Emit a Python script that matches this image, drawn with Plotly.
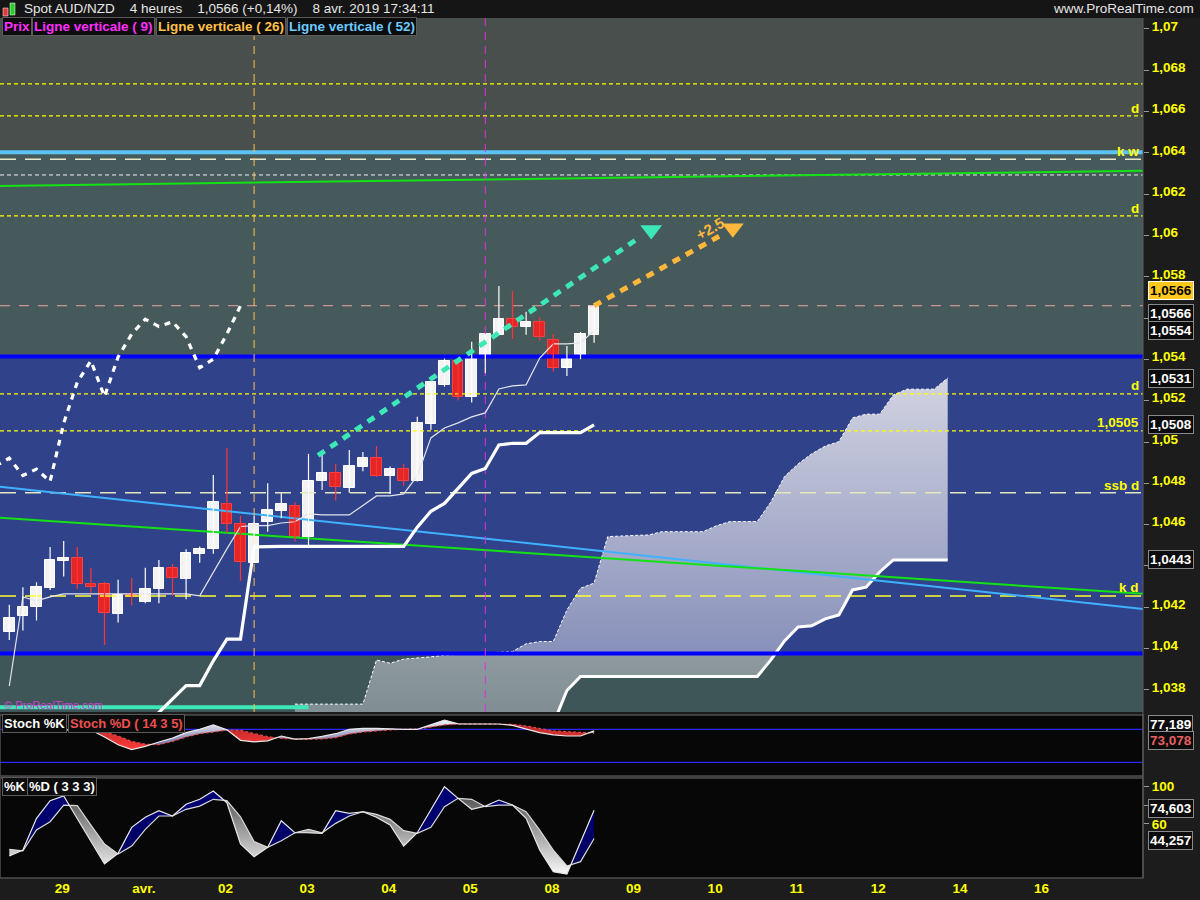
import plotly.graph_objects as go

# ------------------------------------------------------------------ data
OPEN = [1.04078, 1.04160, 1.04199, 1.04295, 1.04426, 1.04438, 1.04313, 1.04312, 1.04169, 1.04259,
        1.04228, 1.04288, 1.04389, 1.04339, 1.04460, 1.04481, 1.04699, 1.04602, 1.04416, 1.04612,
        1.04668, 1.04689, 1.04542, 1.04809, 1.04849, 1.04779, 1.04881, 1.04922, 1.04838, 1.04869,
        1.04809, 1.05088, 1.05277, 1.05391, 1.05220, 1.05417, 1.05519, 1.05595, 1.05559, 1.05582,
        1.05494, 1.05360, 1.05409, 1.05520]
HIGH = [1.04212, 1.04297, 1.04321, 1.04492, 1.04521, 1.04492, 1.04391, 1.04323, 1.04333, 1.04342,
        1.04391, 1.04429, 1.04410, 1.04481, 1.04494, 1.04841, 1.04972, 1.04642, 1.04642, 1.04801,
        1.04752, 1.04709, 1.04943, 1.04943, 1.04894, 1.04962, 1.04952, 1.04981, 1.04881, 1.04894,
        1.05123, 1.05290, 1.05404, 1.05401, 1.05485, 1.05523, 1.05756, 1.05730, 1.05631, 1.05604,
        1.05523, 1.05465, 1.05533, 1.05662]
LOW = [1.04042, 1.04087, 1.04136, 1.04284, 1.04349, 1.04288, 1.04268, 1.04018, 1.04126, 1.04210,
       1.04220, 1.04220, 1.04255, 1.04239, 1.04416, 1.04459, 1.04560, 1.04329, 1.04416, 1.04566,
       1.04631, 1.04518, 1.04497, 1.04768, 1.04717, 1.04755, 1.04859, 1.04830, 1.04749, 1.04788,
       1.04809, 1.05059, 1.05268, 1.05201, 1.05191, 1.05333, 1.05519, 1.05499, 1.05519, 1.05491,
       1.05341, 1.05320, 1.05401, 1.05481]
CLOSE = [1.04147, 1.04200, 1.04297, 1.04428, 1.04439, 1.04312, 1.04297, 1.04171, 1.04259, 1.04249,
         1.04288, 1.04389, 1.04341, 1.04462, 1.04481, 1.04710, 1.04602, 1.04418, 1.04602, 1.04671,
         1.04699, 1.04542, 1.04812, 1.04849, 1.04781, 1.04884, 1.04922, 1.04838, 1.04869, 1.04809,
         1.05091, 1.05290, 1.05393, 1.05220, 1.05412, 1.05523, 1.05595, 1.05559, 1.05582, 1.05510,
         1.05360, 1.05401, 1.05523, 1.05660]

TENKAN = [1.03819, 1.04250, 1.04231, 1.04250, 1.04265, 1.04265, 1.04265, 1.04265, 1.04265, 1.04265,
          1.04265, 1.04265, 1.04265, 1.04265, 1.04255, 1.04371, 1.04483, 1.04591, 1.04595, 1.04595,
          1.04608, 1.04614, 1.04652, 1.04647, 1.04647, 1.04647, 1.04693, 1.04739, 1.04739, 1.04749,
          1.04836, 1.05020, 1.05068, 1.05093, 1.05122, 1.05141, 1.05257, 1.05272, 1.05277, 1.05407,
          1.05475, 1.05475, 1.05480, 1.05540]

KIJUN_START = 10
KIJUN = [1.03626, 1.03691, 1.03757, 1.03821, 1.03821, 1.03941, 1.04046, 1.04046, 1.04492,
         1.04495, 1.04495, 1.04495, 1.04495, 1.04495, 1.04495, 1.04495, 1.04495, 1.04495, 1.04495, 1.04495,
         1.04588, 1.04665, 1.04703, 1.04778, 1.04848, 1.04872, 1.04986, 1.04994, 1.04994, 1.05046,
         1.05046, 1.05046, 1.05046, 1.05083]

CHIKOU_SHIFT = 26

CLOUD_START = 21
CLOUD_UP = [1.03731, 1.03731, 1.03731, 1.03731, 1.03731, 1.03731, 1.03945, 1.03929, 1.03949, 1.03953,
            1.03960, 1.03968, 1.03972, 1.03974, 1.03979, 1.03982, 1.03986, 1.04023, 1.04034, 1.04034,
            1.04187, 1.04292, 1.04317, 1.04542, 1.04546, 1.04548, 1.04550, 1.04566, 1.04566, 1.04566,
            1.04566, 1.04595, 1.04615, 1.04615, 1.04615, 1.04710, 1.04833, 1.04894, 1.04943, 1.04981,
            1.05002, 1.05117, 1.05135, 1.05135, 1.05228, 1.05256, 1.05256, 1.05256, 1.05310]
CLOUD_DN = [1.03550, 1.03550, 1.03550, 1.03550, 1.03550, 1.03550, 1.03550, 1.03550, 1.03550, 1.03550,
            1.03550, 1.03550, 1.03550, 1.03550, 1.03550, 1.03550, 1.03550, 1.03550, 1.03550, 1.03636,
            1.03797, 1.03865, 1.03865, 1.03865, 1.03865, 1.03865, 1.03865, 1.03865, 1.03865, 1.03865,
            1.03865, 1.03865, 1.03865, 1.03865, 1.03865, 1.03945, 1.04037, 1.04105, 1.04110, 1.04144,
            1.04163, 1.04284, 1.04297, 1.04371, 1.04429, 1.04429, 1.04429, 1.04429, 1.04429]

STOCH_K = [75.6, 76.5, 78.0, 79.0, 79.0, 79.0, 78.7, 66.0, 52.0, 43.0,
           49.0, 57.0, 64.0, 74.0, 80.0, 88.0, 79.0, 60.0, 57.0, 59.0,
           67.8, 62.0, 63.0, 67.0, 72.0, 80.0, 81.8, 81.8, 80.5, 80.0,
           80.0, 88.0, 96.9, 90.0, 89.6, 89.6, 89.6, 87.0, 80.0, 74.0,
           70.0, 67.8, 67.8, 77.189]
STOCH_D = [78.0, 78.0, 78.5, 79.0, 79.0, 79.0, 79.0, 75.0, 68.0, 58.0,
           53.0, 52.0, 58.0, 66.0, 72.0, 75.0, 78.5, 78.0, 72.0, 66.6,
           63.6, 62.0, 61.8, 62.5, 65.0, 71.5, 75.0, 77.5, 79.0, 80.0,
           80.5, 84.0, 88.0, 89.6, 89.6, 89.6, 89.6, 89.0, 86.0, 81.0,
           77.0, 75.6, 74.0, 73.078]
STOCH_LEVELS = [80, 20]

KD_K = [25.5, 31.9, 66.0, 85.0, 90.0, 66.0, 40.9, 16.9, 28.4, 56.3,
        67.1, 74.2, 68.5, 81.1, 86.5, 95.4, 82.8, 38.4, 24.7, 34.8,
        63.4, 50.5, 50.5, 49.8, 74.2, 71.4, 73.1, 67.1, 58.8, 36.2,
        50.5, 74.9, 100.0, 87.5, 75.7, 79.2, 85.7, 80.3, 66.0, 31.9,
        8.6, 6.1, 40.9, 74.603]
KD_D = [32.7, 31.0, 53.4, 62.4, 80.3, 79.6, 58.8, 38.4, 27.6, 36.2,
        54.2, 68.5, 68.5, 75.7, 79.2, 86.5, 85.0, 67.7, 40.9, 34.8,
        41.9, 50.5, 54.2, 50.5, 60.6, 68.5, 73.1, 70.3, 64.9, 52.7,
        49.8, 56.3, 78.5, 87.5, 86.5, 78.5, 80.3, 80.3, 73.1, 53.4,
        31.9, 14.7, 19.4, 44.257]

# horizontal levels (price)
LEVELS_D_SHORT = [1.06734, 1.06579, 1.06095, 1.05233, 1.05054]   # yellow short dashes
LEVEL_KW = 1.06369
LEVEL_WHITE = 1.06293
LEVEL_SSB = 1.04754
LEVEL_KD = 1.04255
PRICE_LAST = 1.0566
LEVEL_CYAN = 1.06403
BLUE_LEVELS = [1.05414, 1.03976]
MINT_LEVEL = 1.03716
MINT_END = 22

# trend lines: prices at the left and right edge of the chart
TREND_X = [-0.684, 83.36]
TREND_BLUE = [1.04783, 1.04192]
TREND_GREEN = [1.04633, 1.04265]
TREND_GREEN_TOP = [1.06240, 1.06313]

VLINE_26 = 18
VLINE_9 = 35

PROJ_MINT_X = [22.7, 46.4]
PROJ_MINT_Y = [1.04935, 1.05993]
PROJ_MINT_TIP = (47.2, 1.06027)
PROJ_ORANGE_X = [43, 52.6]
PROJ_ORANGE_Y = [1.0566, 1.06011]
PROJ_ORANGE_TIP = (53.2, 1.06035)
PROJ_ORANGE_LABEL = (51.5, 1.06036, "+2.5")

X_TICKS = [3.9, 9.9, 15.9, 21.9, 27.9, 33.9, 39.9, 45.9, 51.9, 57.9, 63.9, 69.9, 75.9]
X_LABELS = ["29", "avr.", "02", "03", "04", "05", "08", "09", "10", "11", "12", "14", "16"]
Y_TICKS = [1.038, 1.040, 1.042, 1.044, 1.046, 1.048, 1.050, 1.052, 1.054, 1.056,
           1.058, 1.060, 1.062, 1.064, 1.066, 1.068, 1.070]
# 1,044 and 1,056 are hidden behind the price boxes in the original
Y_LABELS = ["1,038", "1,04", "1,042", "", "1,046", "1,048", "1,05", "1,052", "1,054", "",
            "1,058", "1,06", "1,062", "1,064", "1,066", "1,068", "1,07"]
KD_TICKS = [100, 80, 60]
KD_LABELS = ["100", "80", "60"]

# ------------------------------------------------------------------ style
FONT = "Liberation Sans, Arial, sans-serif"
YEL = "#ffff00"
X_RANGE = [-0.684, 83.36]
Y_RANGE = [1.03693, 1.07053]
Y2_RANGE = [-4.9, 106]
Y3_RANGE = [1.8, 109.4]
PLOT_W, PLOT_TOP, PLOT_BOT = 1143.0, 18.0, 878.0


def px(x):
    return x / PLOT_W


def py(y):
    return (PLOT_BOT - y) / (PLOT_BOT - PLOT_TOP)


def fmt(v, n):
    return f"{v:.{n}f}".replace(".", ",")


N = len(CLOSE)
IDX = list(range(N))

fig = go.Figure()


def hline(v, color, width, dash, x0=X_RANGE[0], x1=X_RANGE[1], yaxis="y"):
    fig.add_trace(go.Scatter(x=[x0, x1], y=[v, v], mode="lines", yaxis=yaxis,
                             line=dict(color=color, width=width, dash=dash), hoverinfo="skip"))


# ---- cloud
cx = list(range(CLOUD_START, CLOUD_START + len(CLOUD_UP)))
fig.add_trace(go.Scatter(x=cx, y=CLOUD_DN, mode="lines", line=dict(color="rgba(0,0,0,0)", width=0),
                         hoverinfo="skip"))
fig.add_trace(go.Scatter(x=cx, y=CLOUD_UP, mode="lines", line=dict(color="rgba(0,0,0,0)", width=0),
                         fill="tonexty",
                         fillgradient=dict(type="vertical", start=1.0372, stop=1.0531,
                                           colorscale=[[0, "rgba(222,222,232,0.42)"],
                                                       [1, "rgba(222,222,232,0.93)"]]),
                         hoverinfo="skip"))
fig.add_trace(go.Scatter(x=cx, y=CLOUD_UP, mode="lines",
                         line=dict(color="#ffffff", width=1, dash="3px,2px"), hoverinfo="skip"))
fig.add_trace(go.Scatter(x=cx, y=CLOUD_DN, mode="lines",
                         line=dict(color="#ffffff", width=3), hoverinfo="skip"))

# ---- level lines
for v in LEVELS_D_SHORT:
    hline(v, YEL, 1.2, "4px,3px")
hline(LEVEL_WHITE, "#f0f0f0", 1, "4px,3px")
hline(LEVEL_KW, "#e8e8c8", 1.5, "16px,9px")
hline(LEVEL_SSB, "#e6e6c0", 1.5, "16px,9px")
hline(LEVEL_KD, "#ffff30", 1.5, "16px,9px")
hline(PRICE_LAST, "#e8a2a0", 1, "10px,9px")
hline(LEVEL_CYAN, "#5cc4f5", 4, "solid")
fig.add_trace(go.Scatter(x=TREND_X, y=TREND_BLUE, mode="lines", line=dict(color="#3fb2ff", width=2),
                         hoverinfo="skip"))
fig.add_trace(go.Scatter(x=TREND_X, y=TREND_GREEN, mode="lines", line=dict(color="#12e312", width=2),
                         hoverinfo="skip"))
fig.add_trace(go.Scatter(x=TREND_X, y=TREND_GREEN_TOP, mode="lines", line=dict(color="#12e312", width=2),
                         hoverinfo="skip"))
for v in BLUE_LEVELS:
    hline(v, "#0000ff", 4, "solid")
hline(MINT_LEVEL, "#3ee8b6", 4, "solid", x1=MINT_END)

# vertical lines
fig.add_trace(go.Scatter(x=[VLINE_26, VLINE_26], y=Y_RANGE, mode="lines",
                         line=dict(color="#ffc04a", width=1, dash="8px,6px"), hoverinfo="skip"))
fig.add_trace(go.Scatter(x=[VLINE_9, VLINE_9], y=Y_RANGE, mode="lines",
                         line=dict(color="#e030e0", width=1, dash="8px,6px"), hoverinfo="skip"))

# ---- ichimoku lines
fig.add_trace(go.Scatter(x=IDX, y=TENKAN, mode="lines", line=dict(color="#e4e4ec", width=1.2),
                         hoverinfo="skip"))
fig.add_trace(go.Scatter(x=list(range(KIJUN_START, KIJUN_START + len(KIJUN))), y=KIJUN, mode="lines",
                         line=dict(color="#ffffff", width=3.2), hoverinfo="skip"))
fig.add_trace(go.Scatter(x=[i - CHIKOU_SHIFT for i in range(CHIKOU_SHIFT - 1, N)],
                         y=CLOSE[CHIKOU_SHIFT - 1:],
                         mode="lines", line=dict(color="#ffffff", width=3.2, dash="6px,6px"),
                         hoverinfo="skip"))

# ---- candles
up = [i for i in IDX if CLOSE[i] >= OPEN[i]]
dn = [i for i in IDX if CLOSE[i] < OPEN[i]]
for group, col in ((up, "#ffffff"), (dn, "#ff3535")):
    wx, wy = [], []
    for i in group:
        wx += [i, i, None]
        wy += [LOW[i], HIGH[i], None]
    fig.add_trace(go.Scatter(x=wx, y=wy, mode="lines", line=dict(color=col, width=1.2), hoverinfo="skip"))
for group, fillc, linec in ((up, "#f3f3f3", "#ffffff"), (dn, "#e42626", "#ff4040")):
    fig.add_trace(go.Bar(x=group,
                         y=[max(abs(CLOSE[i] - OPEN[i]), 0.00003) for i in group],
                         base=[min(CLOSE[i], OPEN[i]) for i in group],
                         width=0.78, marker=dict(color=fillc, line=dict(color=linec, width=1)),
                         hoverinfo="skip"))

# ---- projections
fig.add_trace(go.Scatter(x=PROJ_MINT_X, y=PROJ_MINT_Y, mode="lines",
                         line=dict(color="#3ee8b6", width=5, dash="8px,7px"), hoverinfo="skip"))
fig.add_trace(go.Scatter(x=[PROJ_MINT_TIP[0]], y=[PROJ_MINT_TIP[1]], mode="markers",
                         marker=dict(symbol="triangle-down", size=19, color="#3ee8b6"), hoverinfo="skip"))
fig.add_trace(go.Scatter(x=PROJ_ORANGE_X, y=PROJ_ORANGE_Y, mode="lines",
                         line=dict(color="#ffb83c", width=5, dash="8px,7px"), hoverinfo="skip"))
fig.add_trace(go.Scatter(x=[PROJ_ORANGE_TIP[0]], y=[PROJ_ORANGE_TIP[1]], mode="markers",
                         marker=dict(symbol="triangle-down", size=19, color="#ffb83c"), hoverinfo="skip"))


# ---- oscillator panels
def split_runs(x, a, b):
    runs = []
    s = a[0] >= b[0]
    cxs, ca, cb = [x[0]], [a[0]], [b[0]]
    for i in range(1, len(x)):
        d0 = a[i - 1] - b[i - 1]
        d1 = a[i] - b[i]
        s1 = d1 >= 0
        if s1 != s:
            t = d0 / (d0 - d1) if d0 != d1 else 0.0
            xc = x[i - 1] + t * (x[i] - x[i - 1])
            yc = a[i - 1] + t * (a[i] - a[i - 1])
            cxs.append(xc); ca.append(yc); cb.append(yc)
            runs.append((s, cxs, ca, cb))
            cxs, ca, cb = [xc], [yc], [yc]
            s = s1
        cxs.append(x[i]); ca.append(a[i]); cb.append(b[i])
    runs.append((s, cxs, ca, cb))
    out = {True: ([], []), False: ([], [])}
    for sg, xs, as_, bs in runs:
        px_, py_ = out[sg]
        px_ += xs + xs[::-1] + [None]
        py_ += as_ + bs[::-1] + [None]
    return out


def osc_panel(k, d, yaxis, pos_scale, neg_scale, kcol, dcol, ddash):
    polys = split_runs(IDX, k, d)
    for sg, scale in ((True, pos_scale), (False, neg_scale)):
        xs, ys = polys[sg]
        fig.add_trace(go.Scatter(x=xs, y=ys, mode="lines", yaxis=yaxis, fill="toself",
                                 line=dict(width=0, color="rgba(0,0,0,0)"),
                                 fillgradient=dict(type="vertical", colorscale=scale),
                                 hoverinfo="skip"))
    fig.add_trace(go.Scatter(x=IDX, y=d, mode="lines", yaxis=yaxis,
                             line=dict(color=dcol, width=1.2, dash=ddash), hoverinfo="skip"))
    fig.add_trace(go.Scatter(x=IDX, y=k, mode="lines", yaxis=yaxis,
                             line=dict(color=kcol, width=1.2), hoverinfo="skip"))


for v in STOCH_LEVELS:
    hline(v, "#2a2aff", 1.2, "solid", yaxis="y2")
osc_panel(STOCH_K, STOCH_D, "y2",
          [[0, "#6f72a6"], [1, "#f4f4fa"]], [[0, "#ff3a3a"], [1, "#b82828"]],
          "#e8e8e8", "#e04848", "3px,2px")
osc_panel(KD_K, KD_D, "y3",
          [[0, "#00005e"], [1, "#000078"]], [[0, "#f8f8f8"], [1, "#585858"]],
          "#e8e8e8", "#d8d8d8", "solid")

# ------------------------------------------------------------------ layout
shapes = []
zones = [(LEVEL_CYAN, Y_RANGE[1] + 0.001, "#494f4c"),
         (BLUE_LEVELS[0], LEVEL_CYAN, "#475a5b"),
         (BLUE_LEVELS[1], BLUE_LEVELS[0], "#30428a"),
         (Y_RANGE[0] - 0.001, BLUE_LEVELS[1], "#3e5658")]
for y0, y1, c in zones:
    shapes.append(dict(type="rect", xref="x domain", yref="y", x0=0, x1=1, y0=y0, y1=y1,
                       fillcolor=c, line=dict(width=0), layer="below"))
for ax in ("y2", "y3"):
    shapes.append(dict(type="rect", xref="x domain", yref=f"{ax} domain", x0=0, x1=1, y0=0, y1=1,
                       line=dict(color="#4e4e4e", width=1.5), layer="above"))
# header bar
shapes.append(dict(type="rect", xref="paper", yref="paper", x0=0, x1=1200 / PLOT_W, y0=py(18), y1=py(0),
                   fillcolor="#151515", line=dict(width=0)))
shapes.append(dict(type="rect", xref="paper", yref="paper", x0=px(3), x1=px(8), y0=py(16), y1=py(8),
                   fillcolor="#e23a3a", line=dict(color="#ffffff", width=0.5)))
shapes.append(dict(type="rect", xref="paper", yref="paper", x0=px(10), x1=px(15), y0=py(15), y1=py(3),
                   fillcolor="#2ccf2c", line=dict(color="#ffffff", width=0.5)))
# right axis separator
shapes.append(dict(type="line", xref="paper", yref="paper", x0=1, x1=1, y0=0, y1=1,
                   line=dict(color="#5a5a5a", width=1)))

ann = []
tf = dict(family=FONT, size=13.5, color="#e6e6e6")
ann.append(dict(text="Spot AUD/NZD    4 heures    1,0566 (+0,14%)    8 avr. 2019 17:34:11",
                xref="paper", yref="paper", x=px(22), y=py(9), xanchor="left", yanchor="middle",
                showarrow=False, font=tf))
ann.append(dict(text="www.ProRealTime.com", xref="paper", yref="paper", x=px(1196), y=py(9),
                xanchor="right", yanchor="middle", showarrow=False, font=tf))

legend_items = [("Prix", "#ff30ff", 2), ("Ligne verticale ( 9)", "#ff30ff", 32),
                ("Ligne verticale ( 26)", "#ffc04a", 156), ("Ligne verticale ( 52)", "#6ccaff", 287)]
for txt, col, x0 in legend_items:
    ann.append(dict(text=txt, xref="paper", yref="paper", x=px(x0), y=py(27), xanchor="left",
                    yanchor="middle", showarrow=False, bgcolor="#0c0c0c", bordercolor="#5a5a5a",
                    borderwidth=1, borderpad=1,
                    font=dict(family=FONT, size=13.5, color=col, weight="bold")))

lab_font = dict(family=FONT, size=13.5, color=YEL, weight="bold")
inline_labels = [("d", LEVELS_D_SHORT[1], 7), ("k w", LEVEL_KW, 8), ("d", LEVELS_D_SHORT[2], 7),
                 ("d", LEVELS_D_SHORT[3], 8), (fmt(LEVELS_D_SHORT[4], 4), LEVELS_D_SHORT[4], 8),
                 ("ssb d", LEVEL_SSB, 7), ("k d", LEVEL_KD, 8)]
for txt, v, sh in inline_labels:
    ann.append(dict(text=txt, xref="paper", yref="y", x=px(1141), y=v, yshift=sh, xanchor="right",
                    yanchor="middle", showarrow=False, font=lab_font))

ann.append(dict(text="© ProRealTime.com", xref="paper", yref="paper", x=px(2), y=py(705),
                xanchor="left", yanchor="middle", showarrow=False,
                font=dict(family=FONT, size=11, color="#d040d0")))

ann.append(dict(text=PROJ_ORANGE_LABEL[2], x=PROJ_ORANGE_LABEL[0], y=PROJ_ORANGE_LABEL[1], xref="x",
                yref="y", showarrow=False, textangle=-29,
                font=dict(family=FONT, size=15, color="#ffb83c", weight="bold")))

box_font = dict(family=FONT, size=13.5, color="#ffffff", weight="bold")


def box(txt, yref, v, shift, bg="#0b0b0b", fc="#ffffff", bc="#8a8a8a"):
    ann.append(dict(text=txt, xref="paper", yref=yref, x=px(1148), y=v, yshift=shift,
                    xanchor="left", yanchor="middle", showarrow=False, bgcolor=bg, bordercolor=bc,
                    borderwidth=1, borderpad=1, font=dict(box_font, color=fc)))


box(fmt(CLOSE[-1], 4), "y", CLOSE[-1], 15, bg="#ffc81a", fc="#000000", bc="#ffffff")
box(fmt(CLOSE[-1], 4), "y", CLOSE[-1], -8)
box(fmt(TENKAN[-1], 4), "y", TENKAN[-1], 0)
box(fmt(CLOUD_UP[-1], 4), "y", CLOUD_UP[-1], 0)
box(fmt(KIJUN[-1], 4), "y", KIJUN[-1], 0)
box(fmt(CLOUD_DN[-1], 4), "y", CLOUD_DN[-1], 0)
box(fmt(STOCH_K[-1], 3), "y2", STOCH_K[-1], 6)
box(fmt(STOCH_D[-1], 3), "y2", STOCH_D[-1], -7, fc="#e86060")
box(fmt(KD_K[-1], 3), "y3", KD_K[-1], 2)
box(fmt(KD_D[-1], 3), "y3", KD_D[-1], -2)

panel_labels = [("Stoch %K", "#ffffff", 2, 723), ("Stoch %D ( 14 3 5)", "#ee5050", 68, 723),
                ("%K", "#ffffff", 2, 786), ("%D ( 3 3 3)", "#ffffff", 27, 786)]
for txt, col, x0, y0 in panel_labels:
    ann.append(dict(text=txt, xref="paper", yref="paper", x=px(x0), y=py(y0), xanchor="left",
                    yanchor="middle", showarrow=False, bgcolor="#0c0c0c", bordercolor="#5a5a5a",
                    borderwidth=1, borderpad=1,
                    font=dict(family=FONT, size=13, color=col, weight="bold")))

axis_common = dict(showgrid=False, zeroline=False, showline=False, fixedrange=True)
fig.update_layout(
    width=1200, height=900,
    margin=dict(l=0, r=57, t=18, b=22, pad=0),
    paper_bgcolor="#1c1c1c", plot_bgcolor="#070707",
    showlegend=False, barmode="overlay", bargap=0,
    shapes=shapes, annotations=ann,
    xaxis=dict(range=X_RANGE, anchor="y3", tickvals=X_TICKS, ticktext=X_LABELS, ticks="",
               tickfont=dict(family=FONT, size=13.5, color=YEL, weight="bold"), **axis_common),
    yaxis=dict(domain=[py(712), 1], range=Y_RANGE, side="right", anchor="x", tickvals=Y_TICKS,
               ticktext=Y_LABELS, ticks="outside", ticklen=5, tickcolor="#9a9a9a", ticklabelshift=-3,
               tickfont=dict(family=FONT, size=13.5, color=YEL, weight="bold"), **axis_common),
    yaxis2=dict(domain=[py(776), py(715)], range=Y2_RANGE, side="right", anchor="x",
                showticklabels=False, ticks="", **axis_common),
    yaxis3=dict(domain=[0, py(778)], range=Y3_RANGE, side="right", anchor="x", tickvals=KD_TICKS,
                ticktext=KD_LABELS, ticks="outside", ticklen=5, tickcolor="#9a9a9a",
                tickfont=dict(family=FONT, size=13.5, color=YEL, weight="bold"), **axis_common),
)

fig.write_html("out.html",
               config={"displayModeBar": False},
               post_script="document.body.style.margin='0';"
                           "document.body.style.background='#1c1c1c';"
                           "document.body.style.overflow='hidden';")
